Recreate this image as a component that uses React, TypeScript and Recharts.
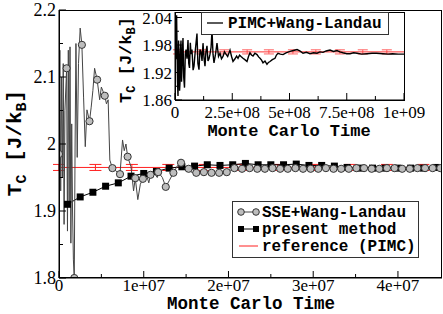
import React from 'react';
import { LineChart, Line, XAxis, YAxis, ErrorBar } from 'recharts';

// ---------- main panel data ----------
// SSE+Wang-Landau: points carrying circle markers
const sseCircleT = [0, 9e5, 1.8e6, 2.7e6, 3.6e6, 4.5e6, 5.4e6, 6.3e6, 7.2e6, 8.1e6, 9.0e6, 9.9e6, 1.08e7, 1.17e7, 1.26e7, 1.35e7, 1.44e7, 1.53e7, 1.62e7, 1.71e7, 1.8e7, 1.89e7, 1.98e7, 2.07e7, 2.16e7, 2.25e7, 2.34e7, 2.43e7, 2.52e7, 2.61e7, 2.7e7, 2.79e7, 2.88e7, 2.97e7, 3.06e7, 3.15e7, 3.24e7, 3.33e7, 3.42e7, 3.51e7, 3.6e7, 3.69e7, 3.78e7, 3.87e7, 3.96e7, 4.05e7, 4.14e7, 4.23e7, 4.32e7, 4.41e7, 4.5e7];
const sseCircleTc = [1.985, 2.113, 1.8, 2.148, 2.034, 2.096, 2.072, 1.964, 1.955, 1.981, 1.949, 1.948, 1.954, 1.958, 1.936, 1.957, 1.972, 1.963, 1.957, 1.958, 1.957, 1.957, 1.958, 1.964, 1.963, 1.964, 1.963, 1.963, 1.964, 1.963, 1.963, 1.964, 1.963, 1.963, 1.963, 1.964, 1.963, 1.963, 1.963, 1.964, 1.964, 1.963, 1.963, 1.964, 1.964, 1.963, 1.963, 1.964, 1.964, 1.964, 1.964];
// SSE+Wang-Landau: unmarked samples of the noisy trace between markers
const sseTraceT = [1e5, 2e5, 3e5, 4e5, 5e5, 6e5, 7e5, 1.0e6, 1.1e6, 1.2e6, 1.3e6, 1.4e6, 1.5e6, 1.6e6, 1.7e6, 1.9e6, 2.0e6, 2.15e6, 2.3e6, 2.5e6, 2.9e6, 3.1e6, 3.3e6, 3.8e6, 4.0e6, 4.2e6, 4.8e6, 5.0e6, 5.6e6, 5.8e6, 6.0e6, 6.7e6, 7.5e6, 7.7e6, 7.9e6, 8.5e6, 8.8e6, 9.3e6, 9.6e6, 1.03e7, 1.06e7, 1.12e7, 1.16e7, 1.22e7, 1.3e7, 1.4e7, 1.48e7, 1.56e7];
const sseTraceTc = [2.14, 1.93, 2.1, 1.95, 2.12, 1.88, 2.05, 1.87, 2.14, 1.91, 2.145, 1.852, 2.03, 1.9, 1.827, 2.0, 2.15, 1.98, 2.12, 2.173, 2.07, 1.996, 2.051, 2.055, 2.08, 2.113, 2.066, 2.085, 2.06, 2.066, 1.976, 1.96, 2.006, 1.99, 2.0, 1.966, 1.93, 1.917, 1.94, 1.955, 1.942, 1.957, 1.95, 1.95, 1.945, 1.968, 1.966, 1.958];

// present method
const presentT = [1e6, 2.5e6, 4e6, 5.5e6, 7e6, 8.5e6, 1e7, 1.15e7, 1.3e7, 1.45e7, 1.6e7, 1.75e7, 1.9e7, 2.05e7, 2.2e7, 2.35e7, 2.5e7, 2.65e7, 2.8e7, 2.95e7, 3.1e7, 3.25e7, 3.4e7, 3.55e7, 3.7e7, 3.85e7, 4e7, 4.15e7, 4.3e7, 4.45e7];
const presentTc = [1.91, 1.921, 1.928, 1.937, 1.942, 1.952, 1.956, 1.959, 1.964, 1.966, 1.967, 1.969, 1.968, 1.969, 1.971, 1.969, 1.969, 1.969, 1.97, 1.968, 1.968, 1.967, 1.965, 1.964, 1.964, 1.964, 1.964, 1.964, 1.964, 1.965];

// reference (PIMC)
const refTc = 1.965;
const refErr = 0.0045;
const mainRefBarT = [0, 4.3e6, 8.6e6, 1.29e7, 1.72e7, 2.15e7, 2.58e7, 3.01e7, 3.44e7, 3.87e7, 4.3e7];

// axes
const mainXMax = 4.52e7;
const mainXMajor = [0, 1e7, 2e7, 3e7, 4e7];
const mainXLabels = ['0', '1e+07', '2e+07', '3e+07', '4e+07'];
const mainXMinor = [5e6, 1.5e7, 2.5e7, 3.5e7];
const mainYMajor = [1.8, 1.9, 2.0, 2.1, 2.2];
const mainYLabels = ['1.8', '1.9', '2', '2.1', '2.2'];
const mainYMinor = [1.85, 1.95, 2.05, 2.15];

// ---------- inset data (PIMC+Wang-Landau) ----------
const pimcT = [0, 3e6, 5e6, 7e6, 8.7e6, 1.09e7, 1.31e7, 1.55e7, 1.75e7, 2.0e7, 2.18e7, 2.4e7, 2.62e7, 2.85e7, 3.06e7, 3.3e7, 3.49e7, 3.8e7, 4.15e7, 4.5e7, 4.8e7, 5.24e7, 5.68e7, 6.0e7, 6.33e7, 6.7e7, 6.99e7, 7.42e7, 7.9e7, 8.3e7, 8.9e7, 9.6e7, 1.0e8, 1.048e8, 1.09e8, 1.135e8, 1.18e8, 1.223e8, 1.27e8, 1.31e8, 1.35e8, 1.397e8, 1.44e8, 1.485e8, 1.528e8, 1.575e8, 1.616e8, 1.66e8, 1.703e8, 1.77e8, 1.834e8, 1.9e8, 1.965e8, 2.03e8, 2.096e8, 2.16e8, 2.227e8, 2.3e8, 2.402e8, 2.47e8, 2.533e8, 2.62e8, 2.69e8, 2.751e8, 2.82e8, 2.882e8, 2.969e8, 3.05e8, 3.144e8, 3.21e8, 3.275e8, 3.34e8, 3.406e8, 3.49e8, 3.581e8, 3.65e8, 3.712e8, 3.78e8, 3.843e8, 3.93e8, 4.017e8, 4.08e8, 4.148e8, 4.25e8, 4.367e8, 4.43e8, 4.498e8, 4.6e8, 4.716e8, 4.85e8, 5.022e8, 5.17e8, 5.328e8, 5.45e8, 5.59e8, 5.74e8, 5.895e8, 6.05e8, 6.201e8, 6.33e8, 6.463e8, 6.6e8, 6.769e8, 6.92e8, 7.074e8, 7.2e8, 7.336e8, 7.5e8, 7.642e8, 7.8e8, 7.948e8, 8.15e8, 8.384e8, 8.6e8, 8.8e8, 9.083e8, 9.3e8, 9.5e8, 9.75e8, 1e9];
const pimcTc = [1.96, 2.03, 1.95, 2.045, 1.98, 1.9, 1.869, 1.99, 1.96, 1.88, 1.898, 1.97, 1.99, 1.9, 1.93, 1.975, 1.995, 1.91, 1.887, 1.96, 1.97, 1.95, 1.991, 1.94, 1.93, 1.985, 1.96, 1.97, 1.925, 1.934, 1.97, 2.005, 1.94, 1.926, 1.97, 1.965, 1.945, 1.984, 1.95, 1.934, 1.965, 1.978, 1.945, 1.95, 1.96, 1.975, 2.012, 1.96, 1.941, 1.96, 1.984, 1.955, 1.962, 1.95, 1.955, 1.965, 1.96, 1.955, 1.969, 1.955, 1.944, 1.95, 1.956, 1.951, 1.958, 1.955, 1.951, 1.948, 1.944, 1.955, 1.963, 1.958, 1.956, 1.962, 1.959, 1.954, 1.951, 1.947, 1.941, 1.945, 1.938, 1.942, 1.944, 1.948, 1.951, 1.958, 1.962, 1.96, 1.959, 1.963, 1.966, 1.968, 1.97, 1.967, 1.962, 1.964, 1.961, 1.963, 1.962, 1.965, 1.964, 1.967, 1.969, 1.966, 1.968, 1.965, 1.963, 1.961, 1.961, 1.963, 1.962, 1.96, 1.961, 1.962, 1.962, 1.961, 1.96, 1.961, 1.96, 1.96];
const insetRefBarT = [1.3e7, 1.15e8, 2.15e8, 3.15e8, 4.1e8, 5.15e8, 6.15e8, 7.2e8, 8.2e8, 9.25e8];
const insetXMax = 1e9;
const insetXMajor = [0, 2.5e8, 5e8, 7.5e8, 1e9];
const insetXLabels = ['0', '2.5e+08', '5e+08', '7.5e+08', '1e+09'];
const insetXMinor = [1.25e8, 3.75e8, 6.25e8, 8.75e8];
const insetYMin = 1.86;
const insetYMax = 2.052;
const insetYMajor = [1.86, 1.92, 1.98, 2.04];
const insetYLabels = ['1.86', '1.92', '1.98', '2.04'];
const insetYMinor = [1.89, 1.95, 2.01];

// ---------- built tables ----------
const sseData = [
  ...sseCircleT.map((t, i) => ({ t, v: sseCircleTc[i], marker: true })),
  ...sseTraceT.map((t, i) => ({ t, v: sseTraceTc[i], marker: false })),
].sort((a, b) => a.t - b.t);
const presentData = presentT.map((t, i) => ({ t, v: presentTc[i] }));
const mainRefData = [...mainRefBarT.map((t) => ({ t, v: refTc, e: refErr })), { t: mainXMax, v: refTc, e: 0 }];
const pimcData = pimcT.map((t, i) => ({ t, v: pimcTc[i] }));
const insetRefData = [
  { t: 0, v: refTc, e: 0 },
  ...insetRefBarT.map((t) => ({ t, v: refTc, e: refErr })),
  { t: insetXMax, v: refTc, e: 0 },
];

const SERIF = '"Liberation Serif", "Times New Roman", serif';
const MONO = '"Liberation Mono", "Courier New", monospace';

const near = (a: number, b: number) => Math.abs(a - b) < 1e-9 * Math.max(1, Math.abs(b));

const makeXTick = (major: number[], labels: string[], size: number, dy: number) => (p: any) => {
  const { x, y, payload } = p;
  const idx = major.findIndex((m) => near(m, payload.value));
  const isMajor = idx >= 0;
  return (
    <g>
      <line x1={x} x2={x} y1={y} y2={y - (isMajor ? 7 : 4)} stroke="#000" strokeWidth={1} />
      {isMajor && (
        <text x={x} y={y + dy} textAnchor="middle" fontFamily={SERIF} fontSize={size} fill="#000">
          {labels[idx]}
        </text>
      )}
    </g>
  );
};

const makeYTick = (major: number[], labels: string[], size: number) => (p: any) => {
  const { x, y, payload } = p;
  const idx = major.findIndex((m) => near(m, payload.value));
  const isMajor = idx >= 0;
  return (
    <g>
      <line x1={x} x2={x + (isMajor ? 7 : 4)} y1={y} y2={y} stroke="#000" strokeWidth={1} />
      {isMajor && (
        <text x={x - 3} y={y + 6} textAnchor="end" fontFamily={SERIF} fontSize={size} fill="#000">
          {labels[idx]}
        </text>
      )}
    </g>
  );
};

const circleDot = (p: any) =>
  p.payload && p.payload.marker ? (
    <circle key={`c${p.index}`} cx={p.cx} cy={p.cy} r={3.6} fill="#bdbdbd" stroke="#333" strokeWidth={1} />
  ) : (
    <g key={`c${p.index}`} />
  );

const squareDot = (p: any) => (
  <rect key={`s${p.index}`} x={p.cx - 3.5} y={p.cy - 3.5} width={7} height={7} fill="#000" />
);

export default function App() {
  return (
    <div style={{ position: 'relative', width: 443, height: 314, background: '#fff', overflow: 'hidden' }}>
      <style>{'body{margin:0}'}</style>
      <div style={{ position: 'absolute', left: 0, top: 0 }}>
        <LineChart width={443} height={314} margin={{ top: 10, right: 1, bottom: 0, left: 0 }}>
          <XAxis
            type="number"
            dataKey="t"
            domain={[0, mainXMax]}
            allowDataOverflow
            ticks={[...mainXMajor, ...mainXMinor].sort((a, b) => a - b)}
            interval={0}
            tickSize={0}
            tickMargin={0}
            tickLine={false}
            tick={makeXTick(mainXMajor, mainXLabels, 17, 12.5)}
            axisLine={{ stroke: '#000' }}
            height={36}
          />
          <YAxis
            type="number"
            dataKey="v"
            domain={[1.8, 2.2]}
            allowDataOverflow
            ticks={[...mainYMajor, ...mainYMinor].sort((a, b) => a - b)}
            interval={0}
            tickSize={0}
            tickMargin={0}
            tickLine={false}
            tick={makeYTick(mainYMajor, mainYLabels, 18)}
            axisLine={{ stroke: '#000' }}
            width={59}
          />
          <Line data={mainRefData} dataKey="v" stroke="#ff2020" strokeWidth={1} dot={false} isAnimationActive={false}>
            <ErrorBar dataKey="e" width={6} stroke="#ff2020" strokeWidth={1} direction="y" />
          </Line>
          <Line data={presentData} dataKey="v" stroke="#000" strokeWidth={1} dot={squareDot} isAnimationActive={false} />
          <Line data={sseData} dataKey="v" stroke="#444" strokeWidth={1} dot={circleDot} isAnimationActive={false} />
        </LineChart>
      </div>

      <div style={{ position: 'absolute', left: 100, top: 0 }}>
        <LineChart width={343} height={140} margin={{ top: 12, right: 39, bottom: 0, left: 0 }}>
          <XAxis
            type="number"
            dataKey="t"
            domain={[0, insetXMax]}
            allowDataOverflow
            ticks={[...insetXMajor, ...insetXMinor].sort((a, b) => a - b)}
            interval={0}
            tickSize={0}
            tickMargin={0}
            tickLine={false}
            tick={makeXTick(insetXMajor, insetXLabels, 17, 18)}
            axisLine={{ stroke: '#000' }}
            height={40}
          />
          <YAxis
            type="number"
            dataKey="v"
            domain={[insetYMin, insetYMax]}
            allowDataOverflow
            ticks={[...insetYMajor, ...insetYMinor].sort((a, b) => a - b)}
            interval={0}
            tickSize={0}
            tickMargin={0}
            tickLine={false}
            tick={makeYTick(insetYMajor, insetYLabels, 17)}
            axisLine={{ stroke: '#000' }}
            width={75}
          />
          <Line data={insetRefData} dataKey="v" stroke="#ff3030" strokeWidth={1} dot={false} isAnimationActive={false}>
            <ErrorBar dataKey="e" width={5} stroke="#ff6060" strokeWidth={1} direction="y" />
          </Line>
          <Line data={pimcData} dataKey="v" stroke="#000" strokeWidth={1.4} dot={false} isAnimationActive={false} />
        </LineChart>
      </div>

      <svg
        width={443}
        height={314}
        style={{ position: 'absolute', left: 0, top: 0, pointerEvents: 'none' }}
      >
        {/* frames */}
        <rect x={59.5} y={10.5} width={382} height={267} fill="none" stroke="#000" strokeWidth={1} />
        <rect x={175.5} y={12.5} width={229} height={88} fill="none" stroke="#000" strokeWidth={1} />

        {/* main axis titles */}
        <text x={251} y={308.5} textAnchor="middle" fontFamily={MONO} fontWeight="bold" fontSize={17.5} fill="#000">
          Monte Carlo Time
        </text>
        <text transform="rotate(-90 21 143)" x={21} y={143} textAnchor="middle" fontFamily={MONO} fontWeight="bold" fontSize={21} fill="#000">
          T<tspan fontSize={15} dy={5}>C</tspan>
          <tspan dy={-5}> [J/k</tspan>
          <tspan fontSize={15} dy={5}>B</tspan>
          <tspan dy={-5}>]</tspan>
        </text>

        {/* inset axis titles */}
        <text x={289} y={136} textAnchor="middle" fontFamily={MONO} fontWeight="bold" fontSize={17} fill="#000">
          Monte Carlo Time
        </text>
        <text transform="rotate(-90 131 60)" x={131} y={60} textAnchor="middle" fontFamily={MONO} fontWeight="bold" fontSize={17} fill="#000">
          T<tspan fontSize={12} dy={4}>C</tspan>
          <tspan dy={-4}> [J/k</tspan>
          <tspan fontSize={12} dy={4}>B</tspan>
          <tspan dy={-4}>]</tspan>
        </text>

        {/* inset legend */}
        <rect x={201.5} y={12.5} width={187} height={22} fill="#fff" stroke="#333" strokeWidth={1} />
        <line x1={207} x2={223} y1={23} y2={23} stroke="#000" strokeWidth={1.3} />
        <text x={228} y={28} fontFamily={MONO} fontWeight="bold" fontSize={16} fill="#000">
          PIMC+Wang-Landau
        </text>

        {/* main legend */}
        <rect x={232.5} y={201.5} width={186} height={56} fill="#fff" stroke="#333" strokeWidth={1} />
        <line x1={241} x2={256} y1={212} y2={212} stroke="#444" strokeWidth={1} />
        <circle cx={241} cy={212} r={3.3} fill="#bdbdbd" stroke="#333" />
        <circle cx={256} cy={212} r={3.3} fill="#bdbdbd" stroke="#333" />
        <text x={262} y={217} fontFamily={MONO} fontWeight="bold" fontSize={16} fill="#000">
          SSE+Wang-Landau
        </text>
        <line x1={241} x2={256} y1={229} y2={229} stroke="#000" strokeWidth={1} />
        <rect x={238} y={226} width={6} height={6} fill="#000" />
        <rect x={253} y={226} width={6} height={6} fill="#000" />
        <text x={262} y={234} fontFamily={MONO} fontWeight="bold" fontSize={16} fill="#000">
          present method
        </text>
        <line x1={239} x2={258} y1={246} y2={246} stroke="#ff2020" strokeWidth={1} />
        <text x={262} y={251} fontFamily={MONO} fontWeight="bold" fontSize={16} fill="#000">
          reference (PIMC)
        </text>
      </svg>
    </div>
  );
}
